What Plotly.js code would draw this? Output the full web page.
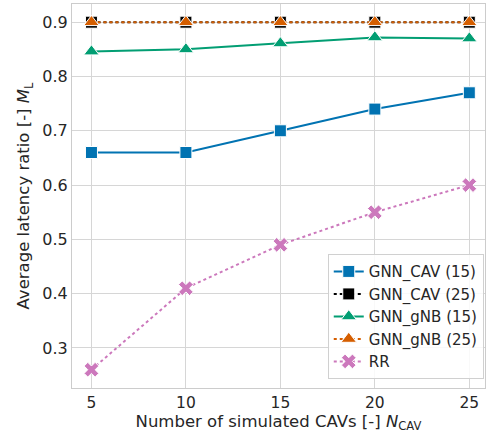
<!DOCTYPE html>
<html>
<head>
<meta charset="utf-8">
<script src="https://cdn.plot.ly/plotly-3.0.1.min.js"></script>
<style>html,body{margin:0;padding:0;background:#fff;}#chart{width:486px;height:435px;}</style>
</head>
<body>
<div id="chart"></div>
<script>
const nCav = [5, 10, 15, 20, 25];
const gnnCav15 = [0.66, 0.66, 0.70, 0.74, 0.77];
const gnnCav25 = [0.90, 0.90, 0.90, 0.90, 0.90];
const gnnGnb15 = [0.846, 0.850, 0.861, 0.872, 0.870];
const gnnGnb25 = [0.90, 0.90, 0.90, 0.90, 0.90];
const rr = [0.26, 0.41, 0.49, 0.55, 0.60];
const yTicks = [0.3, 0.4, 0.5, 0.6, 0.7, 0.8, 0.9];
const xTicks = [5, 10, 15, 20, 25];

const mk = (name, y, color, dash, symbol, size) => ({
  x: nCav, y: y, name: name, type: 'scatter', mode: 'lines+markers',
  line: {color: color, width: 2, dash: dash},
  marker: {symbol: symbol, size: size, color: color, line: {color: '#ffffff', width: 1}}
});

const data = [
  mk('GNN_CAV (15)', gnnCav15, '#0173b2', 'solid', 'square', 12),
  mk('GNN_CAV (25)', gnnCav25, '#000000', 'dot', 'square', 12),
  mk('GNN_gNB (15)', gnnGnb15, '#029e73', 'solid', 'triangle-up', 13.5),
  mk('GNN_gNB (25)', gnnGnb25, '#d55e00', 'dot', 'triangle-up', 13.5),
  mk('RR', rr, '#cc78bc', 'dot', 'x', 13)
];

const layout = {
  width: 486, height: 435,
  margin: {l: 72, r: 1, t: 4, b: 47},
  paper_bgcolor: '#ffffff', plot_bgcolor: '#ffffff',
  font: {family: 'DejaVu Sans', size: 16, color: '#262626'},
  showlegend: true,
  legend: {
    x: 0.997, y: 0.023, xanchor: 'right', yanchor: 'bottom',
    bgcolor: 'rgba(255,255,255,0.85)', bordercolor: '#d0d0d0', borderwidth: 1,
    font: {family: 'DejaVu Sans', size: 15, color: '#262626'},
    tracegroupgap: 0, itemwidth: 30
  },
  xaxis: {
    range: [3.97, 25.83], tickvals: xTicks, ticktext: xTicks.map(String),
    showgrid: true, gridcolor: '#d6d6d6', gridwidth: 1,
    zeroline: false, showline: true, linecolor: '#cccccc', linewidth: 1, mirror: true,
    ticks: '', tickfont: {size: 15.5, color: '#262626'},
    title: {text: 'Number of simulated CAVs [-] <i>N</i><sub>CAV</sub>', font: {size: 16.5, color: '#262626'}, standoff: 4}
  },
  yaxis: {
    range: [0.2263, 0.9335], tickvals: yTicks, ticktext: yTicks.map(v => v.toFixed(1)),
    showgrid: true, gridcolor: '#d6d6d6', gridwidth: 1,
    zeroline: false, showline: true, linecolor: '#cccccc', linewidth: 1, mirror: true,
    ticks: '', tickfont: {size: 16, color: '#262626'},
    title: {text: 'Average latency ratio [-] <i>M</i><sub>L</sub>', font: {size: 16.5, color: '#262626'}, standoff: 8}
  }
};

Plotly.newPlot('chart', data, layout, {displayModeBar: false, staticPlot: true});
</script>
</body>
</html>
